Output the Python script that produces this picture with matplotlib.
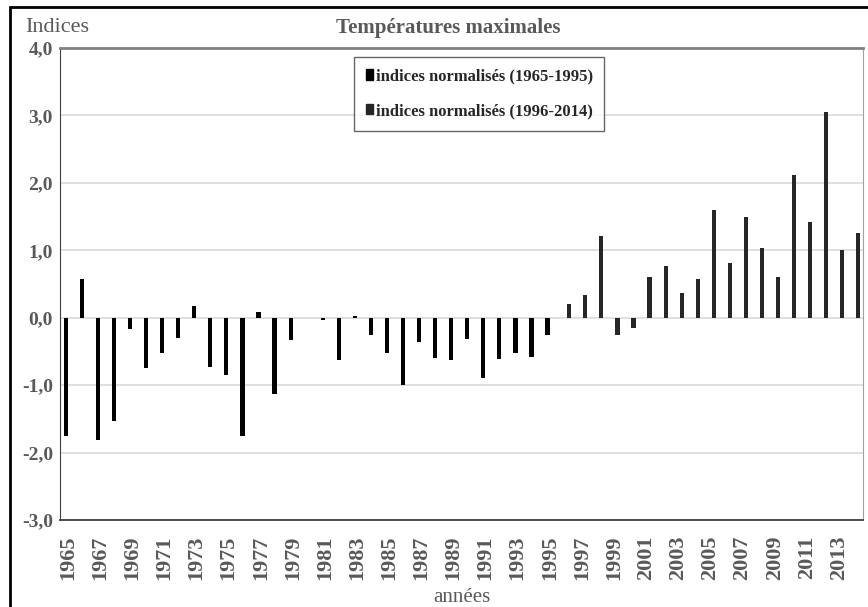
import numpy as np
import matplotlib
matplotlib.use("Agg")
import matplotlib.pyplot as plt
from matplotlib.patches import Patch, Rectangle

years = list(range(1965, 2015))
# indices normalisés 1965-1995
vals_a = [-1.76, 0.58, -1.81, -1.53, -0.17, -0.75, -0.52, -0.30, 0.17, -0.73,
          -0.85, -1.76, 0.08, -1.13, -0.33, 0.0, -0.03, -0.63, 0.03, -0.26,
          -0.52, -1.00, -0.36, -0.60, -0.62, -0.31, -0.90, -0.61, -0.52, -0.59,
          -0.25]
# indices normalisés 1996-2014
vals_b = [0.20, 0.34, 1.21, -0.25, -0.15, 0.61, 0.76, 0.37, 0.57, 1.60,
          0.81, 1.49, 1.03, 0.61, 2.12, 1.42, 3.05, 1.00, 1.26]
label_a = "indices normalisés (1965-1995)"
label_b = "indices normalisés (1996-2014)"
yticks = [-3, -2, -1, 0, 1, 2, 3, 4]

plt.rcParams['font.family'] = ['Liberation Serif', 'DejaVu Serif']
grey = "#595959"

fig = plt.figure(figsize=(8.68, 6.07), dpi=100)
ax = fig.add_axes([60/868, 1-520/607, 803/868, 472/607])

x = np.arange(len(years))
xa = x[:len(vals_a)]
xb = x[len(vals_a):]
ax.bar(xa - 0.14, vals_a, width=0.26, color="black", zorder=3)
ax.bar(xb + 0.21, vals_b, width=0.26, color="#262626", zorder=3)

ax.set_xlim(-0.5, len(years) - 0.5)
ax.set_ylim(-3, 4)
ax.set_yticks(yticks)
ax.set_yticklabels([("%.1f" % v).replace(".", ",") for v in yticks],
                   fontsize=14, fontweight="bold", color=grey)
ax.set_xticks(x[::2])
ax.set_xticklabels([str(y) for y in years[::2]], rotation=90,
                   fontsize=16, fontweight="bold", color=grey)
ax.tick_params(length=0, pad=5)
ax.tick_params(axis="x", pad=11)
ax.grid(axis="y", color="#d9d9d9", linewidth=1.2, zorder=0)

ax.spines["top"].set_color("#808080")
ax.spines["top"].set_linewidth(2)
ax.spines["right"].set_color("#a0a0a0")
ax.spines["left"].set_color("#404040")
ax.spines["bottom"].set_color("#404040")
ax.spines["bottom"].set_linewidth(1.3)

handles = [Patch(color="black"), Patch(color="#262626")]
leg = ax.legend(handles, [label_a, label_b], loc="upper left",
                bbox_to_anchor=(354/868, 1-57/607), bbox_transform=fig.transFigure,
                prop={"size": 12, "weight": "bold"}, frameon=True, fancybox=False,
                handlelength=0.45, handleheight=0.6, handletextpad=0.15,
                labelspacing=1.1, borderpad=0.7, borderaxespad=0)
leg.get_frame().set_edgecolor("#404040")
leg.get_frame().set_linewidth(1)
for t in leg.get_texts():
    t.set_color("#262626")

fig.text(25/868, 1-28/607, "Indices", fontsize=16, color=grey, ha="left", va="center")
fig.text(448/868, 1-28/607, "Températures maximales", fontsize=15, color=grey,
         fontweight="bold", ha="center", va="center")
fig.text(462/868, 1-598/607, "années", fontsize=15, color=grey, ha="center", va="center")

fig.patches.append(Rectangle((10/868, -0.02), 1.0, 1.02 - 7/607, transform=fig.transFigure,
                             fill=False, edgecolor="black", linewidth=2, figure=fig))

fig.savefig("out.png", dpi=100)
